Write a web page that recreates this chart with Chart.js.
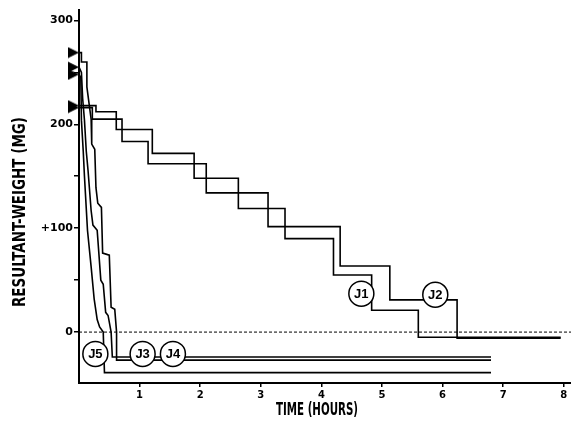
<!DOCTYPE html>
<html>
<head>
<meta charset="utf-8">
<script src="https://cdn.jsdelivr.net/npm/chart.js@4.4.1/dist/chart.umd.min.js"></script>
<style>
  html, body { margin: 0; padding: 0; background: #fff; }
</style>
</head>
<body>
<canvas id="weightChart" width="571" height="435"></canvas>
<script>
// Resultant weight (mg) against time (hours)
// J1, J2: step points - weight holds from each time until the next one
const j1Time   = [0, 0.28, 0.615, 1.21, 1.90, 2.63, 3.40, 4.20, 4.83, 5.60, 7.95];
const j1Weight = [218, 212, 195, 172, 148, 119, 90, 55, 21, -5, -5];
const j2Time   = [0, 0.22, 0.71, 1.14, 2.10, 3.12, 4.31, 5.13, 6.24, 7.95];
const j2Weight = [216, 205, 183.5, 162, 134, 101.5, 63.6, 31, -6, -6];

// J3, J4, J5: fast drops, read as a jagged trace
const j3Time   = [0, 0.04, 0.06, 0.09, 0.12, 0.15, 0.20, 0.23, 0.30, 0.36, 0.40, 0.44, 0.48, 0.53, 0.55, 6.8];
const j3Weight = [255, 250, 225, 204, 174, 155, 117, 103, 98, 50, 46, 19, 16, 0, -24, -24];
const j4Time   = [0, 0.04, 0.04, 0.13, 0.13, 0.20, 0.21, 0.26, 0.28, 0.31, 0.37, 0.39, 0.50, 0.53, 0.59, 0.62, 0.62, 6.8];
const j4Weight = [269, 269, 260, 260, 236, 205, 181, 176, 139, 124, 120, 76, 74, 24, 22, 0, -27, -27];
const j5Time   = [0, 0.03, 0.04, 0.07, 0.09, 0.14, 0.20, 0.25, 0.30, 0.34, 0.40, 0.42, 6.8];
const j5Weight = [248, 245, 204, 174, 150, 98, 63, 32, 12, 5, 0, -39, -39];

// starting weights marked with triangles on the axis
const startWeights = [269, 255, 248, 218, 216];

// circled job labels
const jobNames   = ['J1', 'J2', 'J3', 'J4', 'J5'];
const jobLabelAt = [4.66, 5.88, 1.05, 1.55, 0.27];
const jobLabelWt = [37, 36, -21, -21, -21];

// tick positions
const xTickValues = [1, 2, 3, 4, 5, 6, 7, 8];
const yTickValues = [0, 50, 100, 150, 200, 250, 300];

const toPoints = (xs, ys) => xs.map((x, i) => ({ x: x, y: ys[i] }));

// right-pointing triangle whose tip sits on the point (drawn left of it)
const triangle = document.createElement('canvas');
triangle.width = 24;
triangle.height = 12;
{
  const t = triangle.getContext('2d');
  t.fillStyle = '#000';
  t.beginPath();
  t.moveTo(1, 0.5);
  t.lineTo(12, 6);
  t.lineTo(1, 11.5);
  t.closePath();
  t.fill();
}

const lineStyle = {
  type: 'line',
  borderColor: '#000',
  borderWidth: 1.6,
  pointRadius: 0,
  fill: false,
  order: 2
};

// heavy, narrow title text squeezed to a given length
function drawTitle(ctx, text, cx, cy, length, angle) {
  ctx.save();
  ctx.font = 'bold 17px "DejaVu Sans Condensed", "DejaVu Sans"';
  const w = ctx.measureText(text).width;
  ctx.translate(cx, cy);
  ctx.rotate(angle);
  ctx.scale(length / w, 1);
  ctx.fillText(text, 0, 0);
  ctx.restore();
}

const labelPlugin = {
  id: 'jobLabels',
  afterDatasetsDraw(chart) {
    const { ctx, scales: { x, y } } = chart;
    ctx.save();
    ctx.fillStyle = '#000';
    ctx.textAlign = 'center';
    ctx.textBaseline = 'middle';
    ctx.font = 'bold 13px "Liberation Sans"';
    jobNames.forEach((name, i) => {
      ctx.fillText(name, x.getPixelForValue(jobLabelAt[i]), y.getPixelForValue(jobLabelWt[i]) + 1);
    });
    drawTitle(ctx, 'TIME (HOURS)', 317, 411, 82, 0);
    drawTitle(ctx, 'RESULTANT-WEIGHT (MG)', 21, 212, 190, -Math.PI / 2);
    ctx.restore();
  }
};

const ctx = document.getElementById('weightChart').getContext('2d');
const weightChart = new Chart(ctx, {
  type: 'scatter',
  data: {
    datasets: [
      {
        data: jobNames.map((n, i) => ({ x: jobLabelAt[i], y: jobLabelWt[i] })),
        pointRadius: 12.5,
        pointBackgroundColor: '#fff',
        pointBorderColor: '#000',
        pointBorderWidth: 1.5,
        order: 0
      },
      {
        data: startWeights.map(w => ({ x: 0, y: w })),
        pointStyle: triangle,
        pointRadius: 6,
        clip: false,
        order: 1
      },
      { ...lineStyle, data: toPoints(j1Time, j1Weight), stepped: 'before' },
      { ...lineStyle, data: toPoints(j2Time, j2Weight), stepped: 'before' },
      { ...lineStyle, data: toPoints(j3Time, j3Weight) },
      { ...lineStyle, data: toPoints(j4Time, j4Weight) },
      { ...lineStyle, data: toPoints(j5Time, j5Weight) },
      {
        type: 'line',
        data: [{ x: 0, y: 0 }, { x: 8.12, y: 0 }],
        borderColor: '#000',
        borderWidth: 1,
        borderDash: [3, 2],
        pointRadius: 0,
        order: 3
      }
    ]
  },
  options: {
    responsive: false,
    animation: false,
    layout: { autoPadding: false, padding: { top: 10, right: 0, left: 0, bottom: 0 } },
    plugins: { legend: { display: false }, tooltip: { enabled: false } },
    scales: {
      x: {
        type: 'linear',
        min: 0,
        max: 8.12,
        afterBuildTicks: scale => {
          scale.ticks = xTickValues.map(v => ({ value: v }));
        },
        afterFit: scale => {
          scale.height = 52;
          scale.paddingLeft = 0;
          scale.paddingRight = 0;
        },
        ticks: {
          color: '#000',
          padding: 2,
          maxRotation: 0,
          font: { family: 'DejaVu Sans', weight: 'bold', size: 10 }
        },
        grid: { drawOnChartArea: false, drawTicks: true, tickLength: 4, color: '#000', lineWidth: 1.5 },
        border: { display: true, color: '#000', width: 2 }
      },
      y: {
        min: -49,
        max: 310,
        afterBuildTicks: scale => {
          scale.ticks = yTickValues.map(v => ({ value: v }));
        },
        afterFit: scale => {
          scale.width = 79;
          scale.paddingTop = 0;
          scale.paddingBottom = 0;
        },
        ticks: {
          color: '#000',
          padding: 1,
          font: { family: 'DejaVu Sans', weight: 'bold', size: 11 },
          callback: v => (v === 100 ? '+100' : (v % 100 === 0 ? String(v) : ''))
        },
        grid: { drawOnChartArea: false, drawTicks: true, tickLength: 5, color: '#000', lineWidth: 1.5 },
        border: { display: true, color: '#000', width: 2 }
      }
    }
  },
  plugins: [labelPlugin]
});
</script>
</body>
</html>
